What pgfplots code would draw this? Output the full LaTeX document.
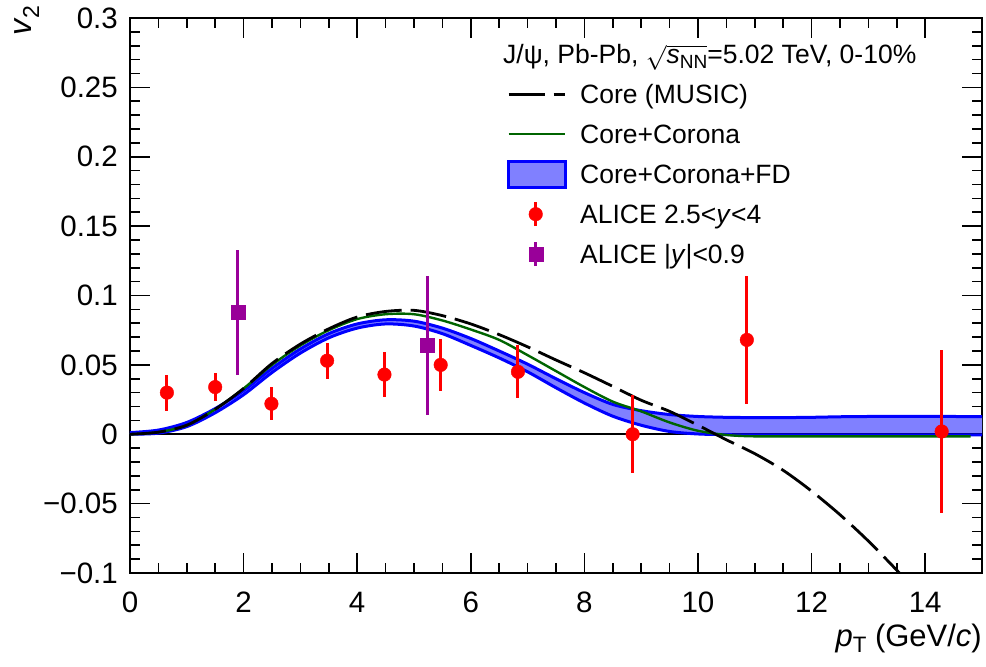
\documentclass[border=0pt]{standalone}
\usepackage{fontspec}
\setmainfont{Liberation Sans}
\usepackage{pgfplots}
\pgfplotsset{compat=1.18}
\usepgfplotslibrary{fillbetween}
\definecolor{bandfill}{RGB}{128,128,255}
\definecolor{rootgreen}{RGB}{0,100,0}
\definecolor{rootpurple}{RGB}{153,0,153}
\newcommand{\rsub}[1]{\raisebox{-0.42ex}{\scalebox{0.72}{#1}}}
\begin{document}
\begin{tikzpicture}
\begin{axis}[
  scale only axis, width=852pt, height=555pt,
  xmin=0, xmax=15, ymin=-0.1, ymax=0.3,
  xtick={0,2,4,6,8,10,12,14}, minor x tick num=3,
  ytick={-0.1,-0.05,0,0.05,0.1,0.15,0.2,0.25,0.3},
  yticklabels={−0.1,−0.05,0,0.05,0.1,0.15,0.2,0.25,0.3},
  minor y tick num=4,
  tick align=inside, tick pos=both,
  xticklabel pos=left, yticklabel pos=left,
  major tick length=20pt, minor tick length=10pt,
  every tick/.style={black, line width=1.7pt},
  axis line style={line width=2pt},
  /pgf/number format/assume math mode=true,
  ticklabel style={font=\fontsize{29.5}{29.5}\selectfont},
  xticklabel style={anchor=north, inner sep=0pt, yshift=-19pt},
  yticklabel style={anchor=east, inner sep=0pt, xshift=-12pt},
  xlabel={\textit{p}\rsub{T} (GeV/\textit{c})},
  xlabel style={at={([yshift=-73pt]rel axis cs:1,0)}, anchor=base east, inner sep=0pt, font=\fontsize{31}{31}\selectfont},
  ylabel={\textit{v}\rsub{2}},
  ylabel style={at={([shift={(-103pt,13pt)}]rel axis cs:0,1)}, anchor=east, rotate=0, inner sep=0pt, font=\fontsize{32}{32}\selectfont},
  legend style={at={(rel axis cs:0.4425,0.8928)}, anchor=north west, draw=none, fill=none,
    inner sep=0pt, row sep=7pt, column sep=13pt,
    font=\fontsize{26.5}{26.5}\selectfont,
    nodes={inner sep=0pt, text height=26pt, text depth=7pt}},
  legend cell align=left,
  clip=true,
]
% zero line
\addplot[forget plot, black, line width=1.6pt] coordinates {(0,0) (15,0)};
% band
\addplot[forget plot, name path=lo, draw=none, smooth] coordinates {
(0,0.0) (0.5,0.0008) (1.0,0.0055) (1.5,0.0155) (2.0,0.0285) (2.5,0.0445) (3.0,0.0585)
(3.5,0.0695) (4.0,0.0765) (4.5,0.0795) (5.0,0.0780) (5.5,0.0725) (6.0,0.0640) (6.5,0.0550)
(7.0,0.0450) (7.5,0.0335) (8.0,0.0225) (8.5,0.0130) (9.0,0.0065) (9.5,0.0020) (10.0,0.0002)
(10.5,-0.0003) (11,-0.0005) (12,-0.0005) (13,-0.0005) (14,-0.0005) (15,-0.0005)};
\addplot[forget plot, name path=up, draw=none, smooth] coordinates {
(0,0.0012) (0.5,0.0030) (1.0,0.0085) (1.5,0.0185) (2.0,0.0315) (2.5,0.0475) (3.0,0.0615)
(3.5,0.0725) (4.0,0.0795) (4.5,0.0825) (5.0,0.0815) (5.5,0.0765) (6.0,0.0690) (6.5,0.0600)
(7.0,0.0505) (7.5,0.0400) (8.0,0.0300) (8.5,0.0215) (9.0,0.0170) (9.5,0.0142) (10.0,0.0128)
(10.5,0.0122) (11.0,0.0120) (11.5,0.0120) (12.0,0.0122) (12.5,0.0126) (13.0,0.0128)
(13.5,0.0129) (14.0,0.0129) (14.5,0.0128) (15.0,0.0127)};
\addplot[forget plot, bandfill] fill between[of=lo and up];
\addplot[forget plot, blue, line width=3pt, smooth] coordinates {
(0,0.0) (0.5,0.0008) (1.0,0.0055) (1.5,0.0155) (2.0,0.0285) (2.5,0.0445) (3.0,0.0585)
(3.5,0.0695) (4.0,0.0765) (4.5,0.0795) (5.0,0.0780) (5.5,0.0725) (6.0,0.0640) (6.5,0.0550)
(7.0,0.0450) (7.5,0.0335) (8.0,0.0225) (8.5,0.0130) (9.0,0.0065) (9.5,0.0020) (10.0,0.0002)
(10.5,-0.0003) (11,-0.0005) (12,-0.0005) (13,-0.0005) (14,-0.0005) (15,-0.0005)};
\addplot[forget plot, blue, line width=3pt, smooth] coordinates {
(0,0.0012) (0.5,0.0030) (1.0,0.0085) (1.5,0.0185) (2.0,0.0315) (2.5,0.0475) (3.0,0.0615)
(3.5,0.0725) (4.0,0.0795) (4.5,0.0825) (5.0,0.0815) (5.5,0.0765) (6.0,0.0690) (6.5,0.0600)
(7.0,0.0505) (7.5,0.0400) (8.0,0.0300) (8.5,0.0215) (9.0,0.0170) (9.5,0.0142) (10.0,0.0128)
(10.5,0.0122) (11.0,0.0120) (11.5,0.0120) (12.0,0.0122) (12.5,0.0126) (13.0,0.0128)
(13.5,0.0129) (14.0,0.0129) (14.5,0.0128) (15.0,0.0127)};
% Core+Corona
\addplot[forget plot, rootgreen, line width=2.4pt, smooth] coordinates {
(0,0) (0.5,0.0015) (1.0,0.0065) (1.5,0.018) (2.0,0.033) (2.5,0.050) (3.0,0.064) (3.5,0.075)
(4.0,0.083) (4.5,0.0865) (5.0,0.0865) (5.5,0.082) (6.0,0.0755) (6.5,0.068) (7.0,0.057)
(7.5,0.0455) (8.0,0.034) (8.5,0.0235) (9.0,0.0165) (9.5,0.0085) (10.0,0.0025) (10.5,-0.0005)
(11.0,-0.0015) (12,-0.0015) (13,-0.0015) (14,-0.0015) (14.8,-0.0015)};
% Core (MUSIC)
\addplot[forget plot, black, line width=2.8pt, dash pattern=on 36pt off 9pt, smooth] coordinates {
(0,0) (0.5,0.0015) (1.0,0.0065) (1.5,0.018) (2.0,0.033) (2.5,0.051) (3.0,0.065) (3.5,0.076)
(4.0,0.0845) (4.5,0.0885) (5.0,0.0893) (5.5,0.0855) (6.0,0.0795) (6.5,0.0718) (7.0,0.0630)
(7.5,0.0535) (8.0,0.0443) (8.5,0.0345) (9.0,0.0245) (9.5,0.0165) (10.0,0.0065) (10.5,-0.004)
(11.0,-0.014) (11.5,-0.026) (12.0,-0.041) (12.5,-0.058) (13.0,-0.077) (13.5,-0.098) (13.7,-0.107)};
% ALICE forward
\addplot[forget plot, only marks, mark=*, mark size=6.8pt, color=red,
  error bars/.cd, y dir=both, y explicit, error mark=none,
  error bar style={line width=3pt, red}] coordinates {
(0.65,0.030) +- (0,0.013)
(1.50,0.034) +- (0,0.010)
(2.49,0.022) +- (0,0.012)
(3.47,0.053) +- (0,0.013)
(4.48,0.043) +- (0,0.016)
(5.47,0.050) +- (0,0.019)
(6.83,0.045) +- (0,0.019)
(8.85,0.000) +- (0,0.028)
(10.86,0.068) +- (0,0.046)
(14.29,0.002) +- (0,0.059)};
% ALICE mid
\addplot[forget plot, only marks, mark=square*, mark size=7pt, color=rootpurple,
  error bars/.cd, y dir=both, y explicit, error mark=none,
  error bar style={line width=3pt, rootpurple}] coordinates {
(1.90,0.088) +- (0,0.045)
(5.24,0.064) +- (0,0.050)};
% legend
\addlegendimage{legend image code/.code={\draw[black, line width=2.8pt, dash pattern=on 36pt off 9pt] (0pt,0pt) -- (56pt,0pt);}}
\addlegendentry{Core (MUSIC)}
\addlegendimage{legend image code/.code={\draw[rootgreen, line width=2.4pt] (0pt,0pt) -- (56pt,0pt);}}
\addlegendentry{Core+Corona}
\addlegendimage{legend image code/.code={\draw[fill=bandfill, draw=blue, line width=3pt] (0pt,-13pt) rectangle (57pt,13pt);}}
\addlegendentry{Core+Corona+FD}
\addlegendimage{legend image code/.code={\draw[red, line width=3pt] (27pt,-12pt) -- (27pt,12pt); \draw[red, mark=*, mark size=6.8pt] plot coordinates {(27pt,0pt)};}}
\addlegendentry{ALICE 2.5<\textit{y}<4}
\addlegendimage{legend image code/.code={\draw[rootpurple, line width=3pt] (27pt,-12pt) -- (27pt,12pt); \draw[rootpurple, mark=square*, mark size=7pt] plot coordinates {(27pt,0pt)};}}
\addlegendentry{ALICE |\textit{y}|<0.9}
\node[anchor=base west, inner sep=0pt, font=\fontsize{26.5}{26.5}\selectfont] at (rel axis cs:0.4378,0.9189)
  {J/ψ, Pb-Pb, $\sqrt{\mbox{\textit{s}\rsub{NN}}}$=5.02 TeV, 0-10\%};
\end{axis}
\path (current axis.south west) ++(-130pt,-94pt) rectangle ++(986pt,667pt);
\end{tikzpicture}
\end{document}
